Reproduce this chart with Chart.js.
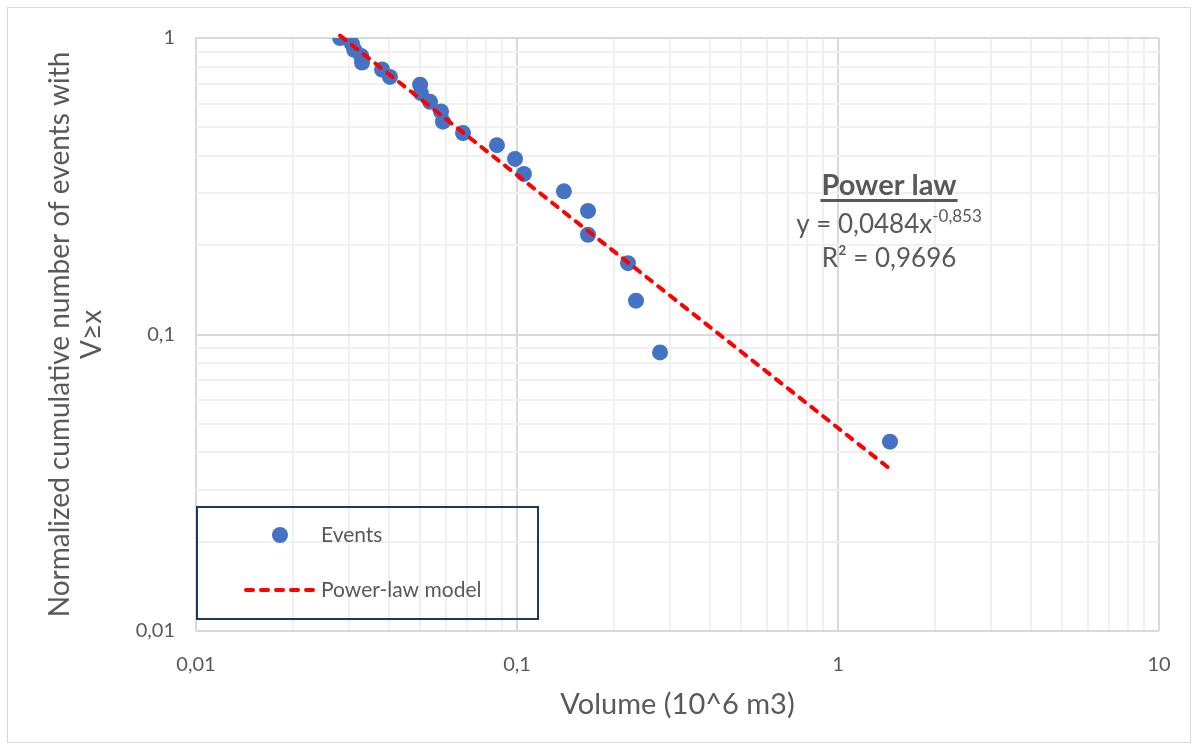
<!DOCTYPE html>
<html>
<head>
<meta charset="utf-8">
<script src="https://cdn.jsdelivr.net/npm/chart.js@4/dist/chart.umd.min.js"></script>
<style>
  html, body { margin: 0; padding: 0; background: #fff; }
  #wrap { width: 1197px; height: 749px; }
</style>
</head>
<body>
<div id="wrap"><canvas id="chart" width="1197" height="749"></canvas></div>
<script>
// event volumes (10^6 m3) and normalized cumulative counts
var volumes = [0.0281, 0.0306, 0.0311, 0.0327, 0.0329, 0.0380, 0.0402, 0.0499, 0.0502, 0.0536, 0.0580, 0.0588,
               0.0679, 0.0866, 0.0986, 0.1051, 0.140, 0.1664, 0.1664, 0.2217, 0.2348, 0.279, 1.452];
var fractions = [1, 0.957, 0.913, 0.870, 0.826, 0.783, 0.739, 0.696, 0.652, 0.609, 0.565, 0.522,
                 0.478, 0.435, 0.391, 0.348, 0.304, 0.261, 0.217, 0.174, 0.130, 0.087, 0.0435];

// power-law fit y = a * x^b
var fitA = 0.0484;
var fitB = -0.853;
var fitR2 = 0.9696;
var fitRange = [0.0281, 1.452];

var xTickValues = [0.01, 0.1, 1, 10];
var xTickLabels = ['0,01', '0,1', '1', '10'];
var yTickValues = [0.01, 0.1, 1];
var yTickLabels = ['0,01', '0,1', '1'];

var textColor = '#595959';
var fontName = 'Lato';

function comma(v) {
	return String(v).replace('.', ',');
}

function decadeGrid(decades) {
	var out = [];
	for (var i = 0; i < decades.length - 1; i++) {
		for (var m = 1; m < 10; m++) {
			out.push({ value: +(decades[i] * m).toPrecision(3) });
		}
	}
	out.push({ value: decades[decades.length - 1] });
	return out;
}

function isDecade(v) {
	var l = Math.log10(v);
	return Math.abs(l - Math.round(l)) < 1e-6;
}

function labelFor(values, labels) {
	return function(v) {
		for (var i = 0; i < values.length; i++) {
			if (Math.abs(values[i] - v) < values[i] * 1e-6) return labels[i];
		}
		return '';
	};
}

var points = volumes.map(function(v, i) { return { x: v, y: fractions[i] }; });
var trend = fitRange.map(function(x) { return { x: x, y: fitA * Math.pow(x, fitB) }; });

var gridStyle = {
	color: function(c) { return c.tick && isDecade(c.tick.value) ? '#d9d9d9' : '#f0f0f0'; },
	lineWidth: 2,
	drawTicks: false
};

var frame = {
	id: 'frame',
	beforeDraw: function(chart) {
		var ctx = chart.ctx;
		ctx.save();
		ctx.strokeStyle = '#d9d9d9';
		ctx.lineWidth = 1;
		ctx.strokeRect(7.5, 7.5, 1183, 735);
		ctx.restore();
	}
};

var notes = {
	id: 'notes',
	afterDraw: function(chart) {
		var ctx = chart.ctx;
		var ev = chart.data.datasets[1];
		var tr = chart.data.datasets[0];
		ctx.save();

		// legend box
		ctx.strokeStyle = '#1f3864';
		ctx.lineWidth = 2;
		ctx.strokeRect(197, 507, 341, 112);
		ctx.fillStyle = ev.backgroundColor;
		ctx.beginPath();
		ctx.arc(280, 535, ev.pointRadius, 0, Math.PI * 2);
		ctx.fill();
		ctx.strokeStyle = tr.borderColor;
		ctx.lineWidth = tr.borderWidth;
		ctx.lineCap = 'round';
		ctx.setLineDash(tr.borderDash);
		ctx.beginPath();
		ctx.moveTo(246, 590);
		ctx.lineTo(316, 590);
		ctx.stroke();
		ctx.setLineDash([]);
		ctx.fillStyle = textColor;
		ctx.font = '21px ' + fontName;
		ctx.textBaseline = 'middle';
		ctx.textAlign = 'left';
		ctx.fillText(ev.label, 321, 535);
		ctx.fillText(tr.label, 321, 590);

		// fit annotation
		var cx = 889;
		ctx.textBaseline = 'alphabetic';
		ctx.textAlign = 'center';
		ctx.font = 'bold 29px ' + fontName;
		ctx.fillText('Power law', cx, 195);
		var w = ctx.measureText('Power law').width;
		ctx.fillRect(cx - w / 2 - 1, 199, w + 2, 3);

		ctx.textAlign = 'left';
		ctx.font = '26px ' + fontName;
		var base = 'y = ' + comma(fitA) + 'x';
		var sup = comma(fitB);
		var bw = ctx.measureText(base).width;
		ctx.font = '17px ' + fontName;
		var sw = ctx.measureText(sup).width;
		var x0 = cx - (bw + sw) / 2;
		ctx.font = '26px ' + fontName;
		ctx.fillText(base, x0, 233);
		ctx.font = '17px ' + fontName;
		ctx.fillText(sup, x0 + bw, 222);

		ctx.textAlign = 'center';
		ctx.font = '26px ' + fontName;
		ctx.fillText('R\u00b2 = ' + comma(fitR2), cx, 267);
		ctx.restore();
	}
};

new Chart(document.getElementById('chart'), {
	type: 'scatter',
	data: {
		datasets: [{
			type: 'line',
			label: 'Power-law model',
			data: trend,
			showLine: true,
			borderColor: '#ff0000',
			borderWidth: 4,
			borderDash: [7, 8],
			borderCapStyle: 'round',
			pointRadius: 0,
			fill: false,
			clip: false,
			order: 0
		}, {
			label: 'Events',
			data: points,
			backgroundColor: '#4472c4',
			borderWidth: 0,
			pointRadius: 8,
			pointHoverRadius: 8,
			order: 1
		}]
	},
	options: {
		responsive: false,
		animation: false,
		layout: { padding: { left: 0, top: 38, right: 38, bottom: 0 } },
		plugins: {
			legend: { display: false },
			tooltip: { enabled: false }
		},
		scales: {
			x: {
				type: 'logarithmic',
				min: 0.01,
				max: 10,
				afterBuildTicks: function(s) { s.ticks = decadeGrid(xTickValues); },
				afterFit: function(s) { s.height = 118; },
				grid: gridStyle,
				border: { display: false },
				ticks: {
					autoSkip: false,
					maxRotation: 0,
					padding: 22,
					color: textColor,
					font: { family: fontName, size: 20 },
					callback: labelFor(xTickValues, xTickLabels)
				},
				title: {
					display: true,
					text: 'Volume (10^6 m3)',
					color: textColor,
					font: { family: fontName, size: 29 },
					padding: { top: 0, bottom: 27 }
				}
			},
			y: {
				type: 'logarithmic',
				min: 0.01,
				max: 1,
				afterBuildTicks: function(s) { s.ticks = decadeGrid(yTickValues); },
				afterFit: function(s) { s.width = 196; },
				grid: gridStyle,
				border: { display: false },
				ticks: {
					autoSkip: false,
					padding: 21,
					color: textColor,
					font: { family: fontName, size: 20 },
					callback: labelFor(yTickValues, yTickLabels)
				},
				title: {
					display: true,
					text: ['Normalized cumulative number of events with', 'V\u2265x'],
					color: textColor,
					font: { family: fontName, size: 28, lineHeight: 1.15 },
					padding: { top: 44, bottom: 0 }
				}
			}
		}
	},
	plugins: [frame, notes]
});
</script>
</body>
</html>
